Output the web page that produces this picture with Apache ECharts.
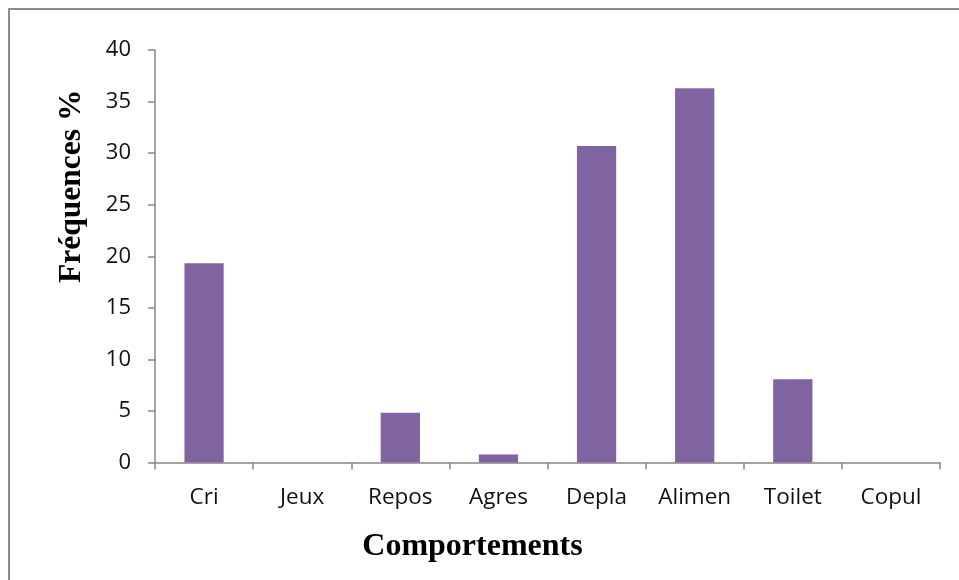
<!DOCTYPE html>
<html>
<head>
<meta charset="utf-8">
<style>
  html, body { margin: 0; padding: 0; background: #fff; }
  #chart { width: 959px; height: 580px; }
</style>
<script src="https://cdn.jsdelivr.net/npm/echarts@6/dist/echarts.min.js"></script>
</head>
<body>
<div id="chart"></div>
<script>
// Behaviour categories and observed frequencies (%)
const categories = ['Cri', 'Jeux', 'Repos', 'Agres', 'Depla', 'Alimen', 'Toilet', 'Copul'];
const frequencies = [19.33, 0, 4.82, 0.78, 30.68, 36.3, 8.07, 0];
const yTicks = { min: 0, max: 40, interval: 5 };

const axisGray = '#868686';
const tickFont = '"Open Sans", Lato, sans-serif';
const titleFont = '"Liberation Serif", "Times New Roman", serif';

const chart = echarts.init(document.getElementById('chart'), null, { renderer: 'canvas' });
chart.setOption({
  animation: false,
  backgroundColor: '#ffffff',
  graphic: [{
    type: 'rect',
    shape: { x: 9, y: 9, width: 1200, height: 1200 },
    style: { fill: 'none', stroke: '#8c8c8c', lineWidth: 2 },
    silent: true
  }],
  grid: { left: 155, right: 19, top: 50, bottom: 117.5, containLabel: false },
  xAxis: {
    type: 'category',
    data: categories,
    name: 'Comportements',
    nameLocation: 'middle',
    nameGap: 68,
    nameTextStyle: {
      fontFamily: titleFont, fontWeight: 'bold', fontSize: 32, color: '#000',
      padding: [0, 150, 0, 0]
    },
    axisLine: { lineStyle: { color: axisGray, width: 1.5 } },
    axisTick: { show: true, length: 7, lineStyle: { color: axisGray, width: 1.5 } },
    axisLabel: { margin: 24, fontFamily: tickFont, fontSize: 22.5, color: '#111' },
    splitLine: { show: false }
  },
  yAxis: {
    type: 'value',
    min: yTicks.min,
    max: yTicks.max,
    interval: yTicks.interval,
    name: 'Fréquences %',
    nameLocation: 'middle',
    nameGap: 67,
    nameRotate: 90,
    nameTextStyle: {
      fontFamily: titleFont, fontWeight: 'bold', fontSize: 31.5, color: '#000',
      padding: [0, 0, 0, 140]
    },
    axisLine: { show: true, lineStyle: { color: axisGray, width: 1.5 } },
    axisTick: { show: true, length: 7, lineStyle: { color: axisGray, width: 1.5 } },
    axisLabel: { margin: 24, fontFamily: tickFont, fontSize: 22, color: '#111' },
    splitLine: { show: false }
  },
  series: [{
    type: 'bar',
    data: frequencies,
    barWidth: '40%',
    itemStyle: { color: '#8064A2' }
  }]
});
</script>
</body>
</html>
